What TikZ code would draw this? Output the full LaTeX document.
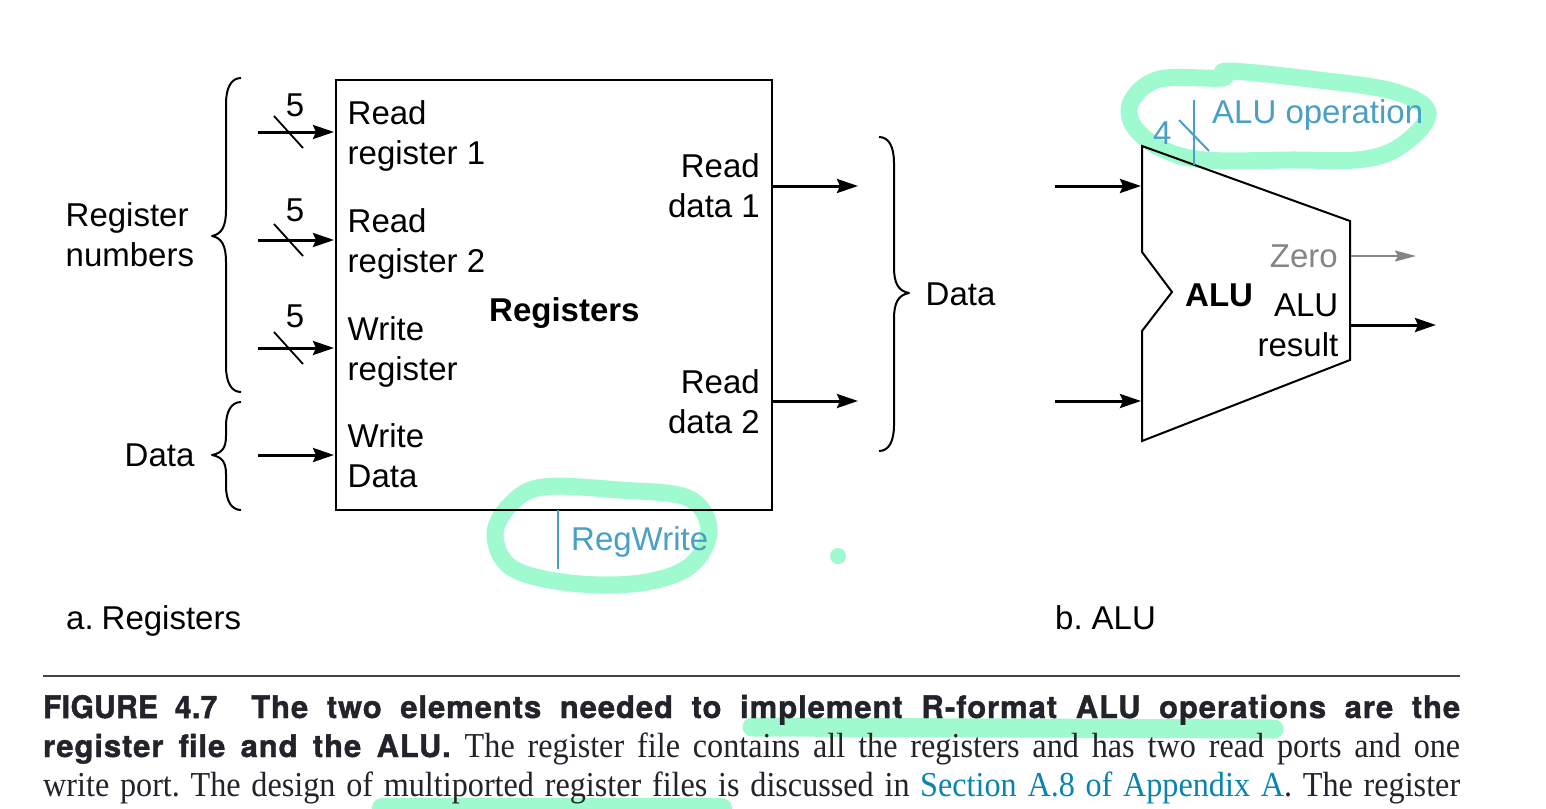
\documentclass[tikz,border=0pt]{standalone}
\usepackage{fontspec}
\setmainfont{Liberation Sans}
\newfontfamily\capbold[FakeStretch=1.0,LetterSpace=3,FakeBold=1.2]{TeX Gyre Heros}
\newfontfamily\capfig[FakeStretch=0.96,LetterSpace=1.5,FakeBold=1.6]{TeX Gyre Heros}
\newfontfamily\capbody[FakeStretch=0.92]{Liberation Serif}
\usetikzlibrary{arrows.meta}
\definecolor{hl}{HTML}{9FFBCF}
\definecolor{ctrl}{HTML}{4A9FC4}
\definecolor{zerog}{HTML}{858585}
\definecolor{linkb}{HTML}{0A84AE}
\definecolor{captxt}{HTML}{23232B}
\tikzset{
  x=1pt,y=-1pt,
  wire/.style={line width=3pt,-{Stealth[length=21pt,width=14pt,inset=3pt]},shorten >=1pt},
  graywire/.style={line width=2pt,draw=zerog,-{Stealth[length=21pt,width=11pt,inset=3pt,fill=zerog]}},
  slashmark/.style={line width=1.8pt},
  ctrlline/.style={line width=2pt,draw=ctrl},
  bracepath/.style={line width=2pt,line join=round},
  lbl/.style={inner sep=0pt,font=\fontsize{33}{40}\selectfont,align=left},
  lblr/.style={inner sep=0pt,font=\fontsize{33}{40}\selectfont,align=right},
  boldlbl/.style={inner sep=0pt,font=\fontsize{33}{40}\selectfont\bfseries},
  mark5/.style={inner sep=0pt,font=\fontsize{33}{40}\selectfont},
  capline/.style={inner sep=0pt,anchor=base west,text=captxt},
  hlstroke/.style={draw=hl,line width=17pt,line cap=round,line join=round},
}
\begin{document}
\begin{tikzpicture}
\frenchspacing
\useasboundingbox (0,0) rectangle (1546,808);
\fill[white] (0,0) rectangle (1546,808);
% highlighter strokes under everything
\begin{scope}
\clip (0,0) rectangle (1546,808);
\draw[hlstroke] plot[smooth cycle,tension=0.6] coordinates {(1228,71) (1310,79) (1392,91) (1428,112) (1405,143) (1365,159) (1290,160) (1205,160) (1160,148) (1133,125) (1132,100) (1160,79) (1222,78)};
\draw[hlstroke] plot[smooth cycle,tension=0.6] coordinates {(543,487) (620,490) (688,498) (709,530) (690,566) (640,583) (570,583) (512,568) (495,535) (510,505)};
\fill[hl] (838,556) circle (8);
\draw[hlstroke,line width=19pt] (752,727) -- (1274,729);
\draw[hlstroke,line width=20pt] (382,808) -- (722,808);
\end{scope}
% register file
\node[draw,line width=2pt,minimum width=436pt,minimum height=430pt,inner sep=0pt,anchor=north west] (reg) at (335,78.5) {};
\node[boldlbl,anchor=base west] (regt) at (489,321) {Registers};
\node[lbl,anchor=base west] (rr1) at (347.5,164.5) {Read\\register 1};
\node[lbl,anchor=base west] (rr2) at (347.5,272) {Read\\register 2};
\node[lbl,anchor=base west] (wr) at (347.5,380) {Write\\register};
\node[lbl,anchor=base west] (wd) at (347.5,487) {Write\\Data};
\node[lblr,anchor=base east] (rd1) at (760,217) {Read\\data 1};
\node[lblr,anchor=base east] (rd2) at (760,433.5) {Read\\data 2};
% inputs
\coordinate (i1) at (258,132); \coordinate (t1) at (335,132);
\coordinate (i2) at (258,240); \coordinate (t2) at (335,240);
\coordinate (i3) at (258,348); \coordinate (t3) at (335,348);
\coordinate (i4) at (258,455); \coordinate (t4) at (335,455);
\draw[wire] (i1) -- (t1);
\draw[wire] (i2) -- (t2);
\draw[wire] (i3) -- (t3);
\draw[wire] (i4) -- (t4);
\draw[slashmark] (274,116) -- (303,148);
\draw[slashmark] (274,224) -- (303,256);
\draw[slashmark] (274,332) -- (303,364);
\node[mark5] (n1) at (295,105) {5};
\node[mark5] (n2) at (295,210) {5};
\node[mark5] (n3) at (295,316) {5};
% outputs
\coordinate (o1) at (772,186); \coordinate (e1) at (859,186);
\coordinate (o2) at (772,401); \coordinate (e2) at (859,401);
\draw[wire] (o1) -- (e1);
\draw[wire] (o2) -- (e2);
% regwrite
\coordinate (rwa) at (558,510); \coordinate (rwb) at (558,569);
\draw[ctrlline] (rwa) -- (rwb);
\node[inner sep=0pt,anchor=base west,text=ctrl,font=\fontsize{33}{40}\selectfont] (rw) at (571,550) {RegWrite};
% braces
\draw[bracepath] (241,78) .. controls (231,78) and (226,88) .. (226,104) -- (226,210) .. controls (226,226) and (222,234) .. (212,236) .. controls (222,238) and (226,246) .. (226,262) -- (226,366) .. controls (226,382) and (231,392) .. (241,392);
\draw[bracepath] (241,402) .. controls (231,402) and (226,412) .. (226,426) -- (226,436) .. controls (226,448) and (222,453) .. (212,455) .. controls (222,457) and (226,462) .. (226,474) -- (226,486) .. controls (226,500) and (231,510) .. (241,510);
\draw[bracepath] (879,137) .. controls (889,137) and (894,147) .. (894,163) -- (894,267) .. controls (894,283) and (898,291) .. (909,293) .. controls (898,295) and (894,303) .. (894,319) -- (894,425) .. controls (894,441) and (889,451) .. (879,451);
\node[lbl,anchor=base west] (lrn) at (65.5,266) {Register\\numbers};
\node[lbl,anchor=base west] (ld1) at (124.5,466) {Data};
\node[lbl,anchor=base west] (ld2) at (925.5,305) {Data};
% ALU
\draw[line width=2pt,line join=miter] (1142,146) -- (1350,221) -- (1350,360) -- (1142,441) -- (1142,331) -- (1172,292) -- (1142,252) -- cycle;
\node[boldlbl,anchor=base west] (alut) at (1185,306) {ALU};
\node[inner sep=0pt,anchor=base east,text=zerog,font=\fontsize{33}{40}\selectfont] (zero) at (1338,267) {Zero};
\node[lblr,anchor=base east] (alur) at (1338.5,356) {ALU\\result};
\coordinate (a1) at (1055,186); \coordinate (a1e) at (1142,186);
\coordinate (a2) at (1055,401); \coordinate (a2e) at (1142,401);
\coordinate (z1) at (1351,256); \coordinate (z2) at (1416,256);
\coordinate (r1) at (1351,325); \coordinate (r2) at (1436,325);
\draw[wire] (a1) -- (a1e);
\draw[wire] (a2) -- (a2e);
\draw[graywire] (z1) -- (z2);
\draw[wire,shorten >=0pt] (r1) -- (r2);
\coordinate (opa) at (1194,100); \coordinate (opb) at (1194,165);
\draw[ctrlline,line width=2.8pt] (opa) -- (opb);
\draw[ctrlline,line width=2pt] (1179,120) -- (1209,151);
\node[inner sep=0pt,anchor=base west,text=ctrl,font=\fontsize{33}{40}\selectfont] (four) at (1153,144) {4};
\node[inner sep=0pt,anchor=base west,text=ctrl,font=\fontsize{33}{40}\selectfont] (aluop) at (1212,123.5) {ALU operation};
% sub-captions
\node[inner sep=0pt,anchor=base west,font=\fontsize{33}{40}\selectfont] (ca) at (66,629) {a.\hskip 8pt Registers};
\node[inner sep=0pt,anchor=base west,font=\fontsize{33}{40}\selectfont] (cb) at (1055,629) {b.\hskip 9pt ALU};
% caption block
\coordinate (ra) at (43,676); \coordinate (rb) at (1460,676);
\draw[line width=2.6pt,draw=captxt!85] (ra) -- (rb);
\node[capline] (c1) at (43,718) {\hbox to 1417pt{{\capfig\bfseries\fontsize{31}{36}\selectfont FIGURE 4.7}\hskip 34pt\relax{\capbold\bfseries\fontsize{31}{36}\selectfont The two elements needed to implement R-format ALU operations are the}}};
\node[capline] (c2) at (43,757) {\hbox to 1417pt{{\capbold\bfseries\fontsize{31}{36}\selectfont register file and the ALU.}\hskip 14pt\relax{\capbody\mdseries\fontsize{35}{36}\selectfont The register file contains all the registers and has two read ports and one}}};
\node[capline] (c3) at (43,796) {\hbox to 1417pt{\capbody\fontsize{35}{36}\selectfont write port. The design of multiported register files is discussed in \textcolor{linkb}{Section A.8 of Appendix A}. The register}};
\end{tikzpicture}
\end{document}
